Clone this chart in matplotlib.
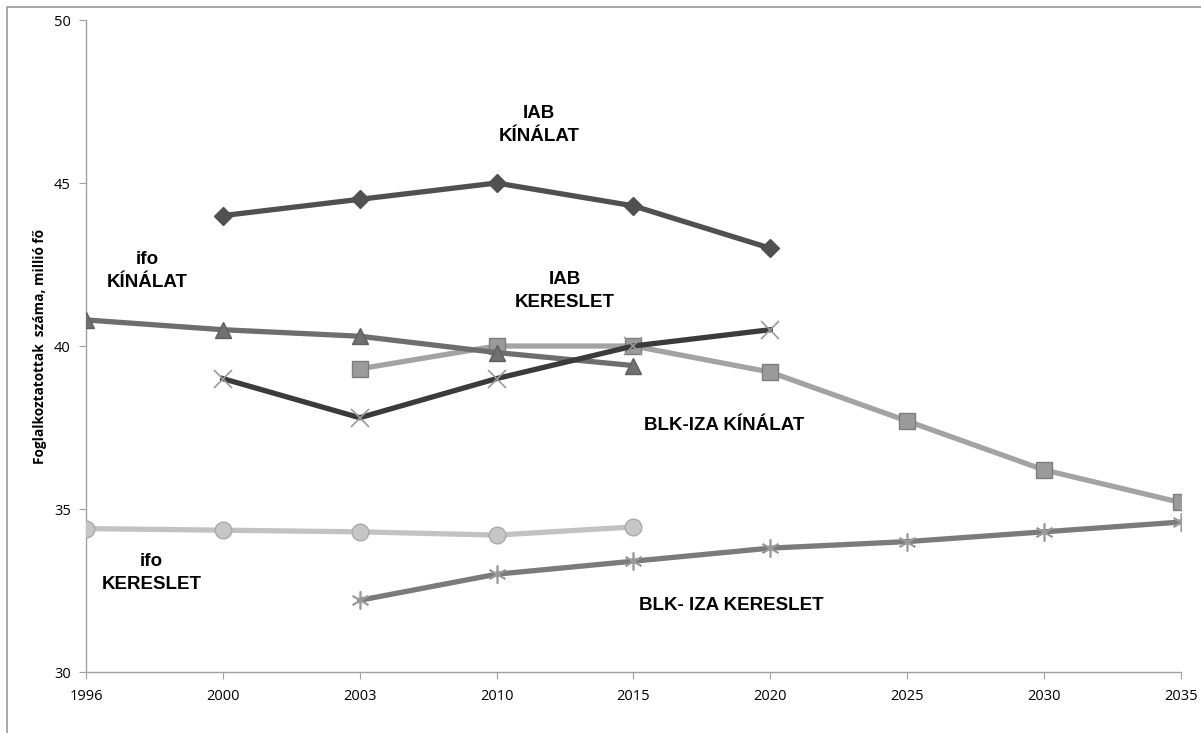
import numpy as np
import matplotlib.pyplot as plt
from matplotlib.lines import Line2D

years = ["1996", "2000", "2003", "2010", "2015", "2020", "2025", "2030", "2035"]
nan = np.nan

iab_kinalat = [nan, 44.0, 44.5, 45.0, 44.3, 43.0, nan, nan, nan]
ifo_kinalat = [40.8, 40.5, 40.3, 39.8, 39.4, nan, nan, nan, nan]
iab_kereslet = [nan, 39.0, 37.8, 39.0, 40.0, 40.5, nan, nan, nan]
blk_kinalat = [nan, nan, 39.3, 40.0, 40.0, 39.2, 37.7, 36.2, 35.2]
ifo_kereslet = [34.4, 34.35, 34.3, 34.2, 34.45, nan, nan, nan, nan]
blk_kereslet = [nan, nan, 32.2, 33.0, 33.4, 33.8, 34.0, 34.3, 34.6]

plt.rcParams['font.family'] = ['Open Sans', 'DejaVu Sans']

fig = plt.figure(figsize=(12.01, 7.33), dpi=100)
ax = fig.add_axes([0.0716, 0.0832, 0.9115, 0.8895])
x = np.arange(len(years))

lw = 3.8
ax.plot(x, blk_kinalat, color='#a3a3a3', lw=lw, marker='s', ms=11,
        mfc='#9a9a9a', mec='#7d7d7d', mew=1, zorder=3)
ax.plot(x, ifo_kinalat, color='#6e6e6e', lw=lw, marker='^', ms=12,
        mfc='#707070', mec='#606060', mew=1, zorder=4)
ax.plot(x, iab_kereslet, color='#3b3b3b', lw=lw, marker='x', ms=13,
        mec='#9a9a9a', mew=1.2, zorder=5)
ax.plot(x, iab_kinalat, color='#505050', lw=lw, marker='D', ms=9,
        mfc='#505050', mec='#505050', zorder=4)
ax.plot(x, ifo_kereslet, color='#c2c2c2', lw=lw, marker='o', ms=12,
        mfc='#c6c6c6', mec='#aaaaaa', mew=1, zorder=3)
ax.plot(x, blk_kereslet, color='#7b7b7b', lw=lw, marker=(6, 2, 0), ms=13,
        mec='#9a9a9a', mew=1.2, zorder=3)

lab = dict(fontsize=13.5, fontweight='bold', family=['Liberation Sans'],
           ha='center', va='center', linespacing=1.45)
ax.text(3.31, 46.78, "IAB\nKÍNÁLAT", **lab)
ax.text(0.445, 42.29, "ifo\nKÍNÁLAT", **lab)
ax.text(3.5, 41.70, "IAB\nKERESLET", **lab)
ax.text(4.08, 37.55, "BLK-IZA KÍNÁLAT", ha='left', va='center', fontsize=13.5,
        fontweight='bold', family=['Liberation Sans'])
ax.text(0.48, 33.05, "ifo\nKERESLET", **lab)
ax.text(4.04, 32.05, "BLK- IZA KERESLET", ha='left', va='center', fontsize=13.5,
        fontweight='bold', family=['Liberation Sans'])

ax.set_xlim(0, 8)
ax.set_ylim(30, 50)
ax.set_xticks(x)
ax.set_xticklabels(years)
ax.set_yticks([30, 35, 40, 45, 50])
ax.tick_params(labelsize=10.5, color='#a0a0a0', length=5)
ax.tick_params(axis='x', pad=7)
ax.tick_params(axis='y', pad=6)
for s in ['top', 'right']:
    ax.spines[s].set_visible(False)
for s in ['left', 'bottom']:
    ax.spines[s].set_color('#a0a0a0')
    ax.spines[s].set_linewidth(1)
ax.set_ylabel("Foglalkoztatottak  száma, millió fő", fontsize=9.8, fontweight='bold',
              labelpad=5)

# outer frame: only top and left edges visible
fig.lines.append(Line2D([7 / 1201, 7 / 1201, 1], [0, 1 - 7 / 733, 1 - 7 / 733],
                        transform=fig.transFigure, color='#999999', lw=1.2))

fig.savefig('out.png', dpi=100)
